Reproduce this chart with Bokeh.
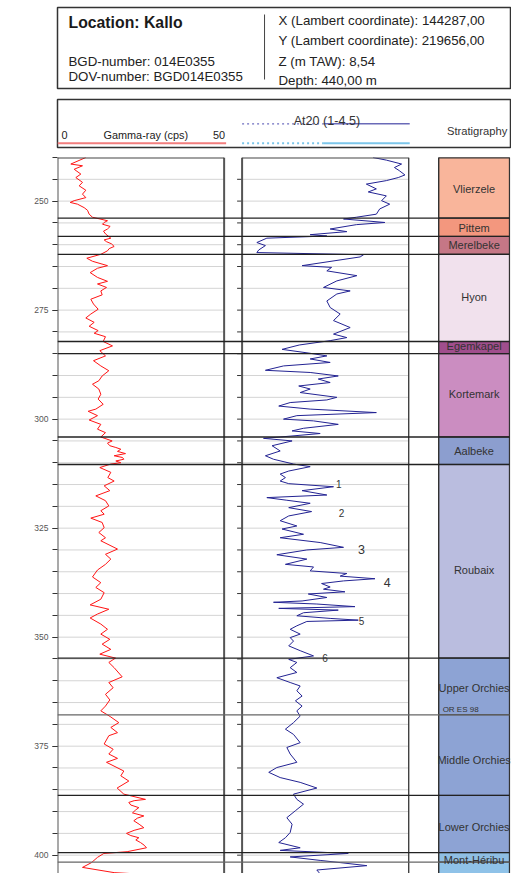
from bokeh.plotting import figure
from bokeh.models import Range1d, FixedTicker
from bokeh.layouts import column
from bokeh.core.properties import value
from bokeh.embed import file_html
from bokeh.resources import INLINE

FONT = value("Liberation Sans")

# ---------------- data ----------------
# gamma-ray log: (depth m, cps)
gamma_log = [
    (240.0, 8.5), (241.5, 4.0), (241.9, 7.5), (242.7, 5.0), (243.8, 7.0), (244.6, 5.5), (245.7, 7.5),
    (246.5, 6.5), (247.5, 8.5), (248.4, 7.5), (249.2, 8.5), (249.9, 5.0), (250.3, 3.8), (250.7, 6.0),
    (251.5, 8.0), (252.1, 9.0), (253.0, 9.5), (253.7, 10.5), (254.5, 15.0), (254.9, 14.0), (255.3, 13.5),
    (255.8, 15.8), (256.4, 15.0), (256.9, 13.8), (257.6, 14.5), (258.0, 15.2), (258.5, 16.0), (258.9, 14.0),
    (259.3, 14.7), (259.8, 16.2), (260.4, 17.0), (260.9, 15.5), (261.4, 15.0), (262.2, 13.0), (263.1, 8.8),
    (263.8, 10.5), (264.8, 15.0), (265.4, 12.0), (266.4, 9.8), (267.5, 12.0), (268.4, 15.0), (269.0, 12.0),
    (269.8, 14.7), (270.6, 13.0), (271.5, 13.4), (272.5, 10.0), (273.6, 10.8), (274.8, 12.2), (275.9, 10.0),
    (276.8, 8.5), (277.8, 11.0), (278.7, 9.5), (279.7, 12.2), (280.3, 11.0), (281.1, 14.4), (282.2, 13.7),
    (283.2, 16.5), (284.3, 12.7), (285.5, 14.4), (286.6, 10.8), (287.8, 13.0), (288.9, 15.4), (290.1, 13.4),
    (291.2, 12.4), (292.0, 10.5), (293.1, 12.4), (294.3, 13.0), (295.4, 12.2), (296.6, 13.7), (297.7, 11.5),
    (298.2, 9.2), (299.2, 12.0), (300.2, 9.5), (301.2, 13.0), (302.3, 12.0), (303.1, 14.4), (304.1, 13.0),
    (305.0, 16.4), (305.5, 15.0), (306.1, 15.7), (306.5, 17.5), (306.9, 19.0), (307.4, 18.0), (307.9, 20.4),
    (308.4, 17.0), (308.8, 19.5), (309.2, 19.9), (309.6, 17.5), (310.0, 19.0), (310.3, 16.0), (311.1, 12.7),
    (312.2, 16.0), (313.4, 15.1), (314.2, 17.0), (315.3, 14.0), (316.4, 15.7), (317.6, 11.5), (318.7, 14.4),
    (319.9, 15.4), (321.0, 13.0), (321.8, 14.0), (322.7, 10.0), (323.7, 13.4), (324.9, 14.0), (326.0, 12.4),
    (327.2, 14.4), (327.9, 13.0), (329.8, 18.0), (331.0, 14.4), (332.1, 16.0), (333.3, 14.4), (334.6, 12.0),
    (336.2, 10.5), (337.5, 13.0), (338.6, 11.5), (339.8, 14.0), (341.3, 13.0), (342.6, 9.8), (343.6, 15.4),
    (344.7, 12.0), (345.6, 9.8), (347.0, 13.0), (348.2, 15.0), (349.3, 13.0), (350.5, 15.7), (351.6, 13.4),
    (352.8, 16.0), (353.9, 12.7), (354.8, 17.4), (355.8, 15.4), (357.0, 17.0), (359.1, 19.4), (360.4, 15.4),
    (361.6, 16.7), (363.1, 14.4), (364.4, 15.7), (365.8, 14.4), (366.9, 13.0), (368.2, 15.8), (369.6, 18.4),
    (370.7, 16.0), (371.9, 18.0), (372.6, 15.4), (374.5, 14.0), (375.7, 16.7), (376.8, 15.4), (377.8, 18.0),
    (378.7, 14.7), (380.7, 19.9), (381.8, 19.0), (383.0, 21.4), (384.6, 17.9), (386.0, 19.9), (387.2, 26.4),
    (387.5, 23.0), (387.9, 21.4), (388.5, 22.0), (389.1, 24.4), (389.6, 23.5), (390.3, 22.5), (391.0, 25.9),
    (391.5, 24.0), (392.1, 22.9), (392.9, 24.5), (393.7, 25.9), (394.3, 23.0), (395.0, 20.7), (395.5, 22.0),
    (396.0, 24.4), (396.5, 23.5), (397.1, 24.9), (397.7, 26.0), (398.3, 26.7), (399.2, 20.9), (399.6, 13.9),
    (400.5, 12.0), (401.7, 10.2), (402.8, 7.5), (404.0, 17.0), (404.3, 23.9),
]
gamma_depth = [d for d, v in gamma_log]
gamma_cps = [v for d, v in gamma_log]

# At20 log: (depth m, value)
at20_log = [
    (240.0, 3.75), (240.6, 4.03), (241.5, 4.35), (242.3, 4.20), (243.0, 4.30), (244.0, 4.42), (244.6, 4.28),
    (245.3, 4.03), (246.1, 3.61), (247.2, 3.82), (247.9, 3.65), (248.8, 4.03), (249.9, 3.93), (250.7, 4.10),
    (251.8, 3.89), (253.0, 3.82), (253.7, 3.40), (254.1, 3.13), (254.9, 4.00), (255.4, 3.40), (256.4, 2.85),
    (257.0, 3.20), (257.7, 2.43), (258.0, 2.78), (258.5, 1.52), (259.5, 1.31), (260.2, 1.49), (261.2, 1.35),
    (261.8, 1.31), (262.3, 3.55), (262.8, 3.48), (264.8, 2.26), (265.2, 2.88), (266.0, 2.78), (267.1, 3.41),
    (268.3, 2.99), (269.8, 2.71), (270.6, 3.27), (271.3, 2.99), (272.9, 2.78), (274.4, 2.85), (275.9, 3.06),
    (277.4, 2.92), (279.0, 3.27), (280.5, 2.92), (281.3, 3.20), (282.0, 2.85), (283.0, 2.20), (284.0, 1.84),
    (284.9, 2.43), (285.5, 2.78), (286.2, 2.43), (287.0, 2.85), (287.8, 1.87), (288.8, 1.49), (289.3, 2.43),
    (290.1, 3.02), (290.8, 2.60), (291.6, 2.85), (292.4, 2.19), (293.1, 2.43), (293.9, 2.22), (295.0, 2.99),
    (295.6, 2.78), (296.2, 2.01), (297.0, 1.77), (297.7, 2.43), (298.5, 3.82), (299.2, 2.15), (300.0, 1.87),
    (300.4, 2.50), (301.2, 3.02), (302.1, 2.29), (302.7, 2.05), (303.3, 2.64), (304.1, 1.80), (304.4, 1.45),
    (305.0, 2.05), (306.1, 1.63), (307.3, 1.80), (308.4, 1.49), (309.2, 1.66), (310.3, 2.08), (310.9, 2.43),
    (311.9, 1.98), (312.6, 1.80), (313.4, 1.91), (314.2, 1.80), (314.8, 1.98), (315.5, 2.92), (316.4, 2.26),
    (317.4, 2.78), (318.0, 1.52), (318.6, 1.94), (319.3, 2.43), (320.3, 1.98), (321.2, 2.46), (322.2, 1.98),
    (323.3, 1.80), (324.5, 2.15), (325.2, 1.84), (326.4, 2.29), (327.2, 1.80), (328.3, 2.64), (329.4, 3.13),
    (330.0, 2.36), (331.1, 1.73), (332.1, 2.36), (333.3, 1.91), (333.9, 2.50), (334.8, 2.43), (335.4, 3.20),
    (336.0, 3.06), (336.6, 3.79), (337.1, 3.13), (337.7, 2.67), (338.5, 2.85), (339.0, 2.71), (339.6, 3.16),
    (340.1, 2.39), (340.9, 2.78), (341.7, 2.26), (342.0, 1.66), (342.4, 2.57), (343.0, 3.37), (343.4, 1.77),
    (343.8, 3.02), (344.4, 2.29), (345.1, 2.15), (345.7, 2.85), (346.1, 3.44), (346.4, 2.36), (347.4, 2.15),
    (348.2, 2.01), (349.3, 2.22), (350.1, 2.01), (350.9, 2.08), (352.0, 1.98), (353.1, 2.22), (354.3, 2.50),
    (355.1, 1.98), (355.8, 2.15), (357.0, 2.01), (358.1, 2.15), (359.3, 1.73), (360.4, 2.01), (361.2, 2.22),
    (362.3, 2.15), (363.5, 2.26), (364.6, 2.12), (365.8, 2.26), (366.9, 2.15), (368.1, 2.22), (369.6, 2.08),
    (371.1, 1.91), (372.3, 2.08), (374.2, 2.22), (375.3, 1.94), (376.8, 2.01), (378.7, 2.15), (379.9, 1.73),
    (381.0, 1.56), (382.2, 1.80), (383.3, 2.22), (384.6, 2.57), (386.0, 2.08), (387.2, 2.15), (388.3, 2.29),
    (389.8, 2.12), (391.4, 1.94), (392.9, 2.05), (394.8, 2.01), (396.0, 1.91), (397.1, 1.77), (398.3, 2.22),
    (398.9, 1.80), (399.6, 3.23), (400.4, 2.01), (401.2, 2.64), (401.7, 3.06), (402.4, 3.62), (403.4, 2.57),
    (404.3, 2.64),
]
at20_depth = [d for d, v in at20_log]
at20_value = [v for d, v in at20_log]

unit_names = ["Vlierzele", "Pittem", "Merelbeke", "Hyon", "Egemkapel", "Kortemark", "Aalbeke", "Roubaix",
              "Upper Orchies", "Middle Orchies", "Lower Orchies", "Mont-Héribu", ""]
unit_tops = [240.0, 253.9, 258.1, 262.2, 282.2, 285.0, 304.1, 310.4, 354.8, 367.8, 386.3, 399.4, 401.6]
unit_colors = ["#F9B59B", "#F3977E", "#C57786", "#F1E1ED", "#A04E8D", "#CB8DC1", "#8C9ECF", "#BABDDF",
               "#8DA3D4", "#8DA3D4", "#8DA3D4", "#8FBEE3", "#8FC2E8"]
unit_label_depth = [247.2, 256.2, 260.1, 271.9, 283.3, 294.3, 307.3, 334.6, 361.6, 378.2, 393.5, 401.0, 403.0]
boundary_color = ["#222", "#222", "#222", "#222", "#222", "#222", "#222", "#222", "#666", "#222", "#222", "#666"]

marker_labels = ["1", "2", "3", "4", "5", "6"]
marker_depth = [314.9, 321.6, 329.8, 337.5, 346.3, 354.8]
marker_at20 = [3.03, 3.09, 3.51, 4.05, 3.51, 2.74]

depth_major = [250, 275, 300, 325, 350, 375, 400]
depth_minor = list(range(240, 406, 5))

DEPTH_TOP = 240.0
DEPTH_BOTTOM = 404.2
GAMMA_MIN, GAMMA_MAX = 0, 50
AT20_MIN, AT20_MAX = 1.0, 4.5

# ---------------- layout constants (pixels) ----------------
W = 511
FRAME_W = 454
PANEL_W = 167
AT20_OFFSET = 185
STRAT_L, STRAT_R = 382, 453

# ---------------- header ----------------
h = figure(width=W, height=98, x_range=Range1d(56, 510), y_range=Range1d(88, 7),
           x_axis_type=None, y_axis_type=None, output_backend="svg", toolbar_location=None,
           min_border_left=56, min_border_right=1, min_border_top=7, min_border_bottom=10)
h.outline_line_color = "#333"
h.outline_line_width = 1.5
h.text(x=[67], y=[22], text=["Location: Kallo"], text_font=FONT, text_font_style="bold",
       text_font_size="15.8px", text_baseline="middle", text_color="#1a1a1a")
h.text(x=[67, 67], y=[60.5, 75.5], text=["BGD-number: 014E0355", "DOV-number: BGD014E0355"],
       text_font=FONT, text_font_size="13.3px", text_baseline="middle", text_color="#222")
h.text(x=[277.5] * 4, y=[19.5, 40, 61, 80],
       text=["X (Lambert coordinate): 144287,00", "Y (Lambert coordinate): 219656,00",
             "Z (m TAW): 8,54", "Depth:  440,00 m"],
       text_font=FONT, text_font_size="13.3px", text_baseline="middle", text_color="#222")
h.segment(x0=[263.5], y0=[14], x1=[263.5], y1=[79], line_color="#444", line_width=1)

# ---------------- legend strip ----------------
g = figure(width=W, height=58, x_range=Range1d(56, 510), y_range=Range1d(147, 99),
           x_axis_type=None, y_axis_type=None, output_backend="svg", toolbar_location=None,
           min_border_left=56, min_border_right=1, min_border_top=1, min_border_bottom=9)
g.outline_line_color = "#333"
g.outline_line_width = 1.5
g.text(x=[60], y=[134], text=[str(GAMMA_MIN)], text_font=FONT, text_font_size="10.9px",
       text_baseline="middle", text_color="#222")
g.text(x=[144.5], y=[134], text=["Gamma-ray (cps)"], text_font=FONT, text_font_size="10.9px",
       text_baseline="middle", text_align="center", text_color="#222")
g.text(x=[224], y=[134], text=[str(GAMMA_MAX)], text_font=FONT, text_font_size="10.9px",
       text_baseline="middle", text_align="right", text_color="#222")
g.segment(x0=[56], y0=[142.7], x1=[225], y1=[142.7], line_color="#F27E7E", line_width=2)
g.segment(x0=[241], y0=[123.3], x1=[323], y1=[123.3], line_color="#6E6EC0", line_width=1.3, line_dash="2 3")
g.segment(x0=[323], y0=[123.3], x1=[409], y1=[123.3], line_color="#6A6AB8", line_width=1.5)
g.segment(x0=[241], y0=[142.7], x1=[323], y1=[142.7], line_color="#7CC6EA", line_width=2, line_dash="2 3")
g.segment(x0=[323], y0=[142.7], x1=[409], y1=[142.7], line_color="#7CC6EA", line_width=2)
g.text(x=[326], y=[120], text=["At20 (1-4.5)"], text_font=FONT, text_font_size="12.6px",
       text_baseline="middle", text_align="center", text_color="#333")
g.text(x=[476.5], y=[130], text=["Stratigraphy"], text_font=FONT, text_font_size="11.2px",
       text_baseline="middle", text_align="center", text_color="#333")

# ---------------- main log ----------------
p = figure(width=W, height=717, x_range=Range1d(0, FRAME_W), y_range=Range1d(DEPTH_BOTTOM, DEPTH_TOP),
           x_axis_type=None, output_backend="svg", toolbar_location=None,
           min_border_left=57, min_border_right=0, min_border_top=1, min_border_bottom=0)
p.outline_line_color = None
p.ygrid.visible = False
gpx = PANEL_W / (GAMMA_MAX - GAMMA_MIN)
apx = PANEL_W / (AT20_MAX - AT20_MIN)
p.extra_x_ranges = {
    "gamma": Range1d(GAMMA_MIN, GAMMA_MIN + FRAME_W / gpx),
    "at20": Range1d(AT20_MIN - AT20_OFFSET / apx, AT20_MIN + (FRAME_W - AT20_OFFSET) / apx),
}

ax = p.yaxis[0]
ax.ticker = FixedTicker(ticks=depth_major, minor_ticks=depth_minor)
ax.axis_line_color = None
ax.major_tick_in = 0
ax.major_tick_out = 5
ax.minor_tick_in = 0
ax.minor_tick_out = 5
ax.major_tick_line_color = "#333"
ax.minor_tick_line_color = "#333"
ax.major_label_text_font = "Liberation Sans"
ax.major_label_text_font_size = "8.5px"
ax.major_label_text_color = "#555"
ax.major_label_standoff = 4

grid_d = [d for d in depth_minor if DEPTH_TOP < d < DEPTH_BOTTOM]
# gridlines
p.segment(x0=GAMMA_MIN, x1=GAMMA_MAX, y0=grid_d, y1=grid_d, x_range_name="gamma",
          line_color="#d4d4d4", line_width=1)
p.segment(x0=AT20_MIN, x1=AT20_MAX, y0=grid_d, y1=grid_d, x_range_name="at20",
          line_color="#d4d4d4", line_width=1)
# tick marks left of At20 panel
p.segment(x0=AT20_MIN - 5 / apx, x1=AT20_MIN, y0=grid_d, y1=grid_d, x_range_name="at20",
          line_color="#333", line_width=1)

# strat column
unit_bottoms = unit_tops[1:] + [DEPTH_BOTTOM + 1]
p.quad(left=STRAT_L, right=STRAT_R, top=unit_tops, bottom=unit_bottoms,
       fill_color=unit_colors, line_color="#333", line_width=1)

# curves
p.line(gamma_cps, gamma_depth, x_range_name="gamma", line_color="#FF1414", line_width=1)
p.line(at20_value, at20_depth, x_range_name="at20", line_color="#232393", line_width=1)

# panel borders
p.segment(x0=[GAMMA_MIN, GAMMA_MAX], x1=[GAMMA_MIN, GAMMA_MAX], y0=DEPTH_TOP, y1=DEPTH_BOTTOM + 1,
          x_range_name="gamma", line_color="#555", line_width=2)
p.segment(x0=GAMMA_MIN, x1=GAMMA_MAX, y0=DEPTH_TOP, y1=DEPTH_TOP, x_range_name="gamma",
          line_color="#444", line_width=2)
p.segment(x0=[AT20_MIN, AT20_MAX], x1=[AT20_MIN, AT20_MAX], y0=DEPTH_TOP, y1=DEPTH_BOTTOM + 1,
          x_range_name="at20", line_color=["#555", "#333"], line_width=[2, 1.3])
p.segment(x0=AT20_MIN, x1=AT20_MAX, y0=DEPTH_TOP, y1=DEPTH_TOP, x_range_name="at20",
          line_color="#444", line_width=2)
p.segment(x0=[STRAT_L, STRAT_R], x1=[STRAT_L, STRAT_R], y0=DEPTH_TOP, y1=DEPTH_BOTTOM + 1,
          line_color="#333", line_width=1.3)
p.segment(x0=STRAT_L, x1=STRAT_R, y0=DEPTH_TOP, y1=DEPTH_TOP, line_color="#333", line_width=2)

# formation boundaries across all columns
bnd = unit_tops[1:]
p.segment(x0=0, x1=STRAT_R, y0=bnd, y1=bnd, line_color=boundary_color, line_width=1.3)

# unit labels
p.text(x=(STRAT_L + STRAT_R) / 2, y=unit_label_depth[:-1], text=unit_names[:-1], text_font=FONT,
       text_font_size="11px", text_align="center", text_baseline="middle", text_color="#333")
p.text(x=[STRAT_L + 4], y=[366.6], text=["OR ES 98"], text_font=FONT, text_font_size="8px",
       text_baseline="middle", text_color="#333")

# numbered markers on At20
small = [0, 1, 4, 5]
big = [2, 3]
p.text(x=[marker_at20[i] for i in small], y=[marker_depth[i] for i in small],
       text=[marker_labels[i] for i in small], x_range_name="at20", text_font=FONT,
       text_font_size="10px", text_align="center", text_baseline="middle", text_color="#333")
p.text(x=[marker_at20[i] for i in big], y=[marker_depth[i] for i in big],
       text=[marker_labels[i] for i in big], x_range_name="at20", text_font=FONT,
       text_font_size="12.5px", text_align="center", text_baseline="middle", text_color="#333")

layout = column(h, g, p)
open("out.html", "w").write(file_html(layout, INLINE))
